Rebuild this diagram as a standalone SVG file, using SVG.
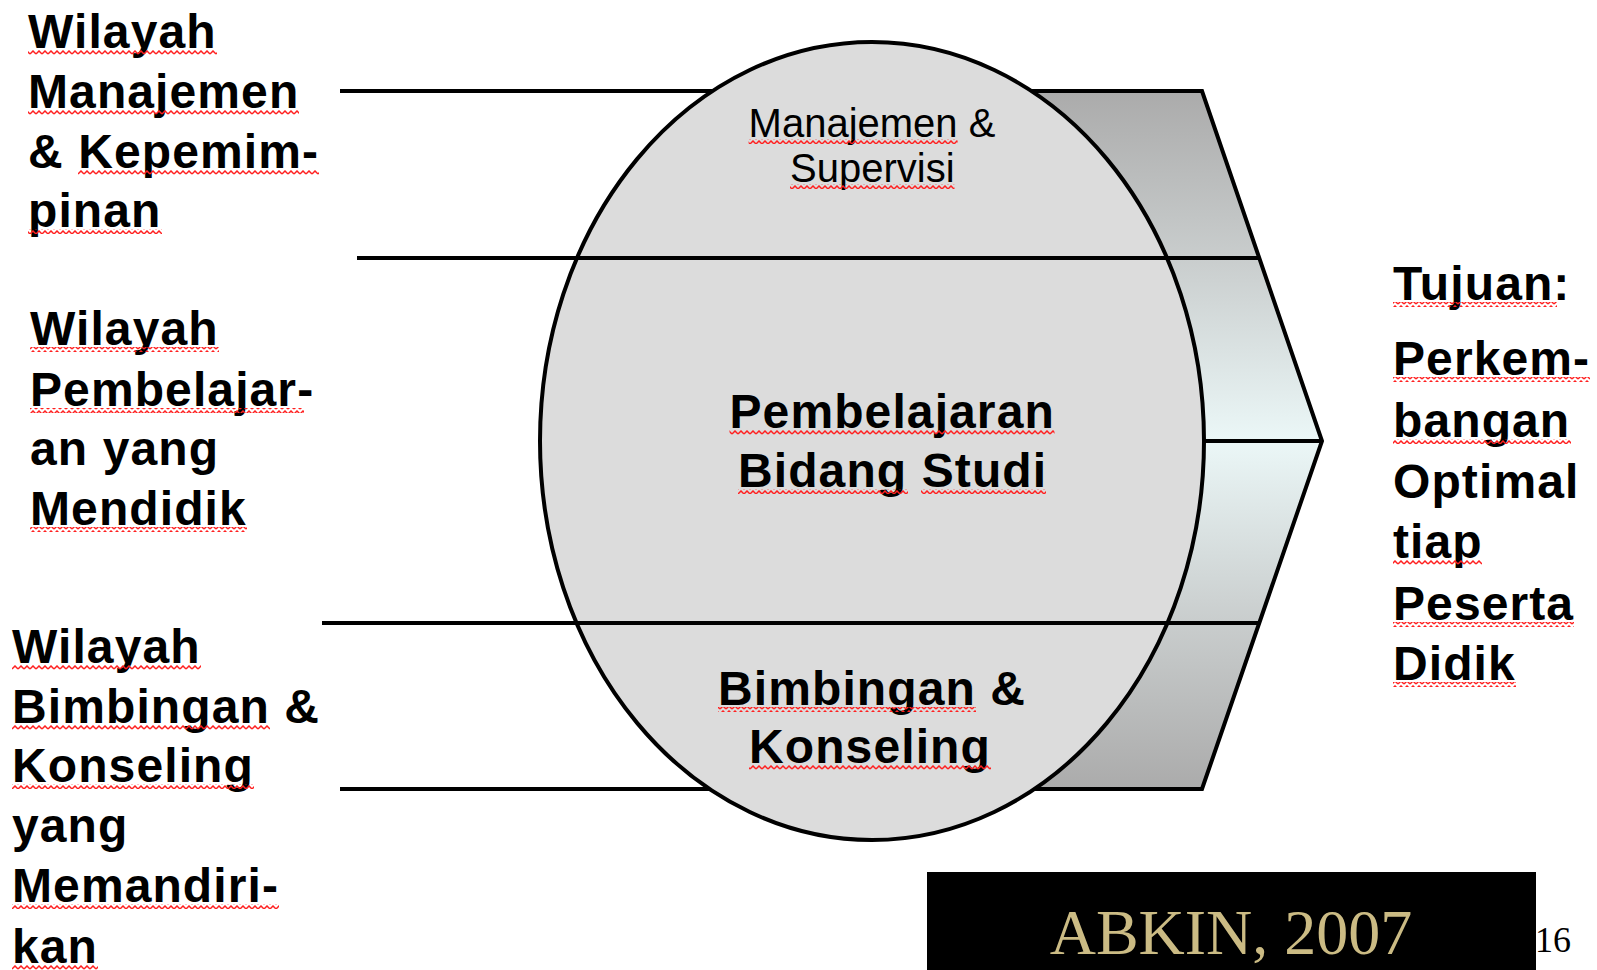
<svg xmlns="http://www.w3.org/2000/svg" width="1597" height="970" viewBox="0 0 1597 970">
<defs>
<linearGradient id="arrowGrad" gradientUnits="userSpaceOnUse" x1="0" y1="91" x2="0" y2="789">
<stop offset="0" stop-color="#ABABAB"/>
<stop offset="0.24" stop-color="#C9CDCD"/>
<stop offset="0.5" stop-color="#EBF7F7"/>
<stop offset="0.76" stop-color="#C9CDCD"/>
<stop offset="1" stop-color="#ABABAB"/>
</linearGradient>
<pattern id="wave" patternUnits="userSpaceOnUse" width="6" height="5">
<polyline points="0,4 3,1 6,4" fill="none" stroke="#FF2020" stroke-width="1.5"/>
</pattern>
<style>
.lbl{font-family:"Liberation Sans",Arial,sans-serif;font-weight:bold;font-size:48px;letter-spacing:1.1px;fill:#000}
.sm{font-family:"Liberation Sans",Arial,sans-serif;font-weight:normal;font-size:40px;fill:#000}
.ln{stroke:#000;stroke-width:4;fill:none}
.wv{fill:url(#wave)}
</style>
</defs>
<rect width="1597" height="970" fill="#FFFFFF"/>

<g id="arrow">
<polygon points="872,91 1202,91 1322,441 1202,789 872,789" fill="url(#arrowGrad)" stroke="#000" stroke-width="4" stroke-linejoin="miter"/>
<line class="ln" x1="1100" y1="441" x2="1322" y2="441"/>
</g>

<g id="connectors-back">
<line class="ln" x1="340" y1="91" x2="1000" y2="91"/>
<line class="ln" x1="340" y1="789" x2="1000" y2="789"/>
</g>

<g id="circle">
<ellipse cx="872" cy="441" rx="332" ry="399" fill="#DCDCDC" stroke="#000" stroke-width="4"/>
</g>

<g id="connectors">
<line class="ln" x1="357" y1="258" x2="1259" y2="258"/>
<line class="ln" x1="322" y1="623" x2="1259" y2="623"/>
</g>

<g id="band-top">
<text class="sm" x="748.6" y="137">Manajemen &amp;</text>
<text class="sm" x="790" y="182">Supervisi</text>
<rect class="wv" x="748.6" y="139" width="209" height="5"/>
<rect class="wv" x="790" y="184" width="164.5" height="5"/>
</g>

<g id="band-middle">
<text class="lbl" x="729.5" y="428">Pembelajaran</text>
<text class="lbl" x="738" y="487">Bidang Studi</text>
<rect class="wv" x="729.5" y="430" width="325" height="5"/>
<rect class="wv" x="738" y="489" width="170" height="5"/>
<rect class="wv" x="921" y="489" width="125" height="5"/>
</g>

<g id="band-bottom">
<text class="lbl" x="718" y="705">Bimbingan &amp;</text>
<text class="lbl" x="749" y="763">Konseling</text>
<rect class="wv" x="718" y="707" width="258" height="5"/>
<rect class="wv" x="749" y="765" width="242" height="5"/>
</g>

<g id="label-manajemen">
<text class="lbl" x="28" y="48">Wilayah</text>
<text class="lbl" x="28" y="108">Manajemen</text>
<text class="lbl" x="28" y="168">&amp; Kepemim-</text>
<text class="lbl" x="28" y="227">pinan</text>
<rect class="wv" x="28" y="50" width="189" height="5"/>
<rect class="wv" x="28" y="110" width="271" height="5"/>
<rect class="wv" x="78" y="170" width="241" height="5"/>
<rect class="wv" x="28" y="229" width="134" height="5"/>
</g>

<g id="label-pembelajaran">
<text class="lbl" x="30" y="345">Wilayah</text>
<text class="lbl" x="30" y="406">Pembelajar-</text>
<text class="lbl" x="30" y="465">an yang</text>
<text class="lbl" x="30" y="525">Mendidik</text>
<rect class="wv" x="30" y="347" width="189" height="5"/>
<rect class="wv" x="30" y="408" width="274" height="5"/>
<rect class="wv" x="30" y="527" width="217" height="5"/>
</g>

<g id="label-bimbingan">
<text class="lbl" x="12" y="663">Wilayah</text>
<text class="lbl" x="12" y="723">Bimbingan &amp;</text>
<text class="lbl" x="12" y="782">Konseling</text>
<text class="lbl" x="12" y="842">yang</text>
<text class="lbl" x="12" y="902">Memandiri-</text>
<text class="lbl" x="12" y="963">kan</text>
<rect class="wv" x="12" y="665" width="189" height="5"/>
<rect class="wv" x="12" y="725" width="258" height="5"/>
<rect class="wv" x="12" y="784" width="242" height="5"/>
<rect class="wv" x="12" y="904" width="267" height="5"/>
<rect class="wv" x="12" y="965" width="86" height="5"/>
</g>

<g id="label-tujuan">
<text class="lbl" x="1393" y="300">Tujuan:</text>
<text class="lbl" x="1393" y="375">Perkem-</text>
<text class="lbl" x="1393" y="437">bangan</text>
<text class="lbl" x="1393" y="498">Optimal</text>
<text class="lbl" x="1393" y="558">tiap</text>
<text class="lbl" x="1393" y="620">Peserta</text>
<text class="lbl" x="1393" y="680">Didik</text>
<rect class="wv" x="1393" y="302" width="164" height="5"/>
<rect class="wv" x="1393" y="377" width="197" height="5"/>
<rect class="wv" x="1393" y="439" width="178" height="5"/>
<rect class="wv" x="1393" y="560" width="89" height="5"/>
<rect class="wv" x="1393" y="622" width="181" height="5"/>
<rect class="wv" x="1393" y="682" width="123" height="5"/>
</g>

<g id="source">
<rect x="927" y="872" width="609" height="98" fill="#000"/>
<text x="1231" y="954" text-anchor="middle" font-family="'Liberation Serif','Times New Roman',serif" font-size="64" fill="#CBBB84">ABKIN, 2007</text>
</g>

<g id="page-number">
<text x="1535" y="952" font-family="'Liberation Serif','Times New Roman',serif" font-size="36" fill="#000">16</text>
</g>
</svg>
